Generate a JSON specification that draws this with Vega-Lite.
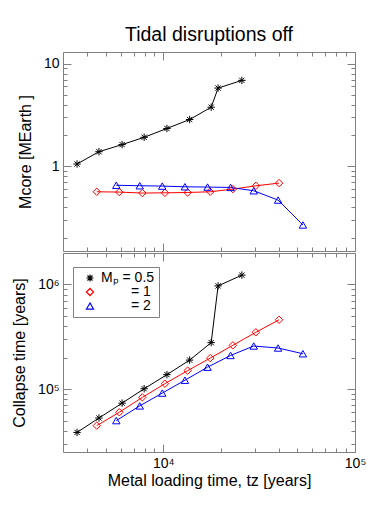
{
  "$schema": "https://vega.github.io/schema/vega-lite/v6.json",
  "padding": {"left": 11, "top": 24, "right": 5, "bottom": 5},
  "datasets": {
    "mcore": [
      {"t": 3550, "v": 1.055, "s": "0.5"}, {"t": 4620, "v": 1.39, "s": "0.5"}, {"t": 6100, "v": 1.63, "s": "0.5"},
      {"t": 7950, "v": 1.92, "s": "0.5"}, {"t": 10450, "v": 2.34, "s": "0.5"}, {"t": 13730, "v": 2.86, "s": "0.5"},
      {"t": 17780, "v": 3.77, "s": "0.5"}, {"t": 19320, "v": 5.79, "s": "0.5"}, {"t": 25700, "v": 6.88, "s": "0.5"},
      {"t": 4500, "v": 0.566, "s": "1"}, {"t": 5900, "v": 0.562, "s": "1"}, {"t": 7780, "v": 0.55, "s": "1"},
      {"t": 10200, "v": 0.553, "s": "1"}, {"t": 13400, "v": 0.557, "s": "1"}, {"t": 17580, "v": 0.566, "s": "1"},
      {"t": 23070, "v": 0.601, "s": "1"}, {"t": 30400, "v": 0.647, "s": "1"}, {"t": 40180, "v": 0.688, "s": "1"},
      {"t": 5690, "v": 0.655, "s": "2"}, {"t": 7540, "v": 0.648, "s": "2"}, {"t": 9880, "v": 0.643, "s": "2"},
      {"t": 12970, "v": 0.633, "s": "2"}, {"t": 17020, "v": 0.629, "s": "2"}, {"t": 22440, "v": 0.624, "s": "2"},
      {"t": 29640, "v": 0.579, "s": "2"}, {"t": 39700, "v": 0.47, "s": "2"}, {"t": 53500, "v": 0.269, "s": "2"}
    ],
    "tcoll": [
      {"t": 3550, "v": 38460, "s": "0.5"}, {"t": 4620, "v": 52850, "s": "0.5"}, {"t": 6100, "v": 73280, "s": "0.5"},
      {"t": 7950, "v": 100700, "s": "0.5"}, {"t": 10450, "v": 137400, "s": "0.5"}, {"t": 13730, "v": 189200, "s": "0.5"},
      {"t": 17780, "v": 278000, "s": "0.5"}, {"t": 19320, "v": 969000, "s": "0.5"}, {"t": 25700, "v": 1229000, "s": "0.5"},
      {"t": 4500, "v": 44650, "s": "1"}, {"t": 5900, "v": 60000, "s": "1"}, {"t": 7780, "v": 83200, "s": "1"},
      {"t": 10200, "v": 112500, "s": "1"}, {"t": 13400, "v": 150000, "s": "1"}, {"t": 17580, "v": 197700, "s": "1"},
      {"t": 23070, "v": 261900, "s": "1"}, {"t": 30400, "v": 349000, "s": "1"}, {"t": 40180, "v": 459700, "s": "1"},
      {"t": 5690, "v": 49900, "s": "2"}, {"t": 7540, "v": 69000, "s": "2"}, {"t": 9880, "v": 91500, "s": "2"},
      {"t": 12970, "v": 121400, "s": "2"}, {"t": 17020, "v": 161800, "s": "2"}, {"t": 22440, "v": 209500, "s": "2"},
      {"t": 29640, "v": 258000, "s": "2"}, {"t": 39700, "v": 246800, "s": "2"}, {"t": 53500, "v": 217600, "s": "2"}
    ]
  },
  "vconcat": [
    {
      "width": 292,
      "height": 199,
      "title": {"text": "Tidal disruptions off", "fontSize": 19.5, "fontWeight": "normal", "font": "Liberation Sans", "anchor": "middle", "frame": "group", "offset": 6, "color": "#000"},
      "data": {"name": "mcore"},
      "layer": [
        {
          "mark": {"type": "line", "strokeWidth": 1},
          "encoding": {
            "x": {"field": "t", "type": "quantitative", "scale": {"type": "log", "domain": [3000, 100000], "nice": false}, "axis": {"orient": "bottom", "values": [10000, 100000], "tickSize": -8, "labels": false, "title": null}},
            "y": {"field": "v", "type": "quantitative", "scale": {"type": "log", "domain": [0.15, 13], "nice": false}, "axis": {"orient": "left", "values": [1, 10], "tickSize": -8, "labelPadding": 12, "labelExpr": "datum.value == 1 ? '1' : '10'", "title": "Mcore [MEarth ]", "titlePadding": 10}},
            "color": {"field": "s", "type": "nominal", "scale": {"domain": ["0.5", "1", "2"], "range": ["#000000", "#ff0000", "#0000ff"]}, "legend": null}
          }
        },
        {
          "mark": {"type": "point", "filled": false, "strokeWidth": 1, "size": 55, "opacity": 1},
          "encoding": {
            "x": {"field": "t", "type": "quantitative", "scale": {"type": "log", "domain": [3000, 100000], "nice": false}, "axis": {"orient": "bottom", "values": [4000, 5000, 6000, 7000, 8000, 9000, 20000, 30000, 40000, 50000, 60000, 70000, 80000, 90000], "tickSize": -4, "labels": false, "title": null}},
            "y": {"field": "v", "type": "quantitative", "scale": {"type": "log", "domain": [0.15, 13], "nice": false}, "axis": {"orient": "left", "values": [0.2, 0.3, 0.4, 0.5, 0.6, 0.7, 0.8, 0.9, 2, 3, 4, 5, 6, 7, 8, 9], "tickSize": -4, "labels": false, "title": null}},
            "color": {"field": "s", "type": "nominal", "scale": {"domain": ["0.5", "1", "2"], "range": ["#000000", "#ff0000", "#0000ff"]}, "legend": null},
            "shape": {"field": "s", "type": "nominal", "scale": {"domain": ["0.5", "1", "2"], "range": ["M-1,0L1,0M0,-1L0,1M-0.71,-0.71L0.71,0.71M-0.71,0.71L0.71,-0.71", "diamond", "triangle-up"]}, "legend": null}
          }
        },
        {
          "mark": {"type": "point", "opacity": 0},
          "encoding": {
            "x": {"field": "t", "type": "quantitative", "scale": {"type": "log", "domain": [3000, 100000], "nice": false}, "axis": {"orient": "top", "values": [10000, 100000], "tickSize": -8, "labels": false, "title": null}},
            "y": {"field": "v", "type": "quantitative", "scale": {"type": "log", "domain": [0.15, 13], "nice": false}, "axis": {"orient": "right", "values": [1, 10], "tickSize": -8, "labels": false, "title": null}}
          }
        },
        {
          "mark": {"type": "point", "opacity": 0},
          "encoding": {
            "x": {"field": "t", "type": "quantitative", "scale": {"type": "log", "domain": [3000, 100000], "nice": false}, "axis": {"orient": "top", "values": [4000, 5000, 6000, 7000, 8000, 9000, 20000, 30000, 40000, 50000, 60000, 70000, 80000, 90000], "tickSize": -4, "labels": false, "title": null}},
            "y": {"field": "v", "type": "quantitative", "scale": {"type": "log", "domain": [0.15, 13], "nice": false}, "axis": {"orient": "right", "values": [0.2, 0.3, 0.4, 0.5, 0.6, 0.7, 0.8, 0.9, 2, 3, 4, 5, 6, 7, 8, 9], "tickSize": -4, "labels": false, "title": null}}
          }
        }
      ],
      "resolve": {"axis": {"x": "independent", "y": "independent"}}
    },
    {
      "width": 292,
      "height": 199,
      "data": {"name": "tcoll"},
      "layer": [
        {
          "mark": {"type": "line", "strokeWidth": 1},
          "encoding": {
            "x": {"field": "t", "type": "quantitative", "scale": {"type": "log", "domain": [3000, 100000], "nice": false}, "axis": {"orient": "bottom", "values": [10000, 100000], "tickSize": -8, "labelPadding": 12, "labelExpr": "datum.value == 10000 ? '10⁴' : '10⁵'", "title": "Metal loading time, tz [years]", "titlePadding": 2}},
            "y": {"field": "v", "type": "quantitative", "scale": {"type": "log", "domain": [25000, 2000000], "nice": false}, "axis": {"orient": "left", "values": [100000, 1000000], "tickSize": -8, "labelPadding": 12, "labelExpr": "datum.value == 100000 ? '10⁵' : '10⁶'", "title": "Collapse time [years]", "titlePadding": 10}},
            "color": {"field": "s", "type": "nominal", "scale": {"domain": ["0.5", "1", "2"], "range": ["#000000", "#ff0000", "#0000ff"]}}
          }
        },
        {
          "mark": {"type": "point", "filled": false, "strokeWidth": 1, "size": 55, "opacity": 1},
          "encoding": {
            "x": {"field": "t", "type": "quantitative", "scale": {"type": "log", "domain": [3000, 100000], "nice": false}, "axis": {"orient": "bottom", "values": [4000, 5000, 6000, 7000, 8000, 9000, 20000, 30000, 40000, 50000, 60000, 70000, 80000, 90000], "tickSize": -4, "labels": false, "title": null}},
            "y": {"field": "v", "type": "quantitative", "scale": {"type": "log", "domain": [25000, 2000000], "nice": false}, "axis": {"orient": "left", "values": [30000, 40000, 50000, 60000, 70000, 80000, 90000, 200000, 300000, 400000, 500000, 600000, 700000, 800000, 900000], "tickSize": -4, "labels": false, "title": null}},
            "color": {"field": "s", "type": "nominal", "scale": {"domain": ["0.5", "1", "2"], "range": ["#000000", "#ff0000", "#0000ff"]}, "legend": {"orient": "none", "legendX": 10, "legendY": 14, "title": null, "labelExpr": "datum.label == '0.5' ? 'Mₚ = 0.5' : datum.label == '1' ? '\u2800\u2800\u2800= 1' : '\u2800\u2800\u2800= 2'"}},
            "shape": {"field": "s", "type": "nominal", "scale": {"domain": ["0.5", "1", "2"], "range": ["M-1,0L1,0M0,-1L0,1M-0.71,-0.71L0.71,0.71M-0.71,0.71L0.71,-0.71", "diamond", "triangle-up"]}, "legend": {"orient": "none", "legendX": 10, "legendY": 14, "title": null, "labelExpr": "datum.label == '0.5' ? 'Mₚ = 0.5' : datum.label == '1' ? '\u2800\u2800\u2800= 1' : '\u2800\u2800\u2800= 2'"}}
          }
        },
        {
          "mark": {"type": "point", "opacity": 0},
          "encoding": {
            "x": {"field": "t", "type": "quantitative", "scale": {"type": "log", "domain": [3000, 100000], "nice": false}, "axis": {"orient": "top", "values": [10000, 100000], "tickSize": -8, "labels": false, "title": null}},
            "y": {"field": "v", "type": "quantitative", "scale": {"type": "log", "domain": [25000, 2000000], "nice": false}, "axis": {"orient": "right", "values": [100000, 1000000], "tickSize": -8, "labels": false, "title": null}}
          }
        },
        {
          "mark": {"type": "point", "opacity": 0},
          "encoding": {
            "x": {"field": "t", "type": "quantitative", "scale": {"type": "log", "domain": [3000, 100000], "nice": false}, "axis": {"orient": "top", "values": [4000, 5000, 6000, 7000, 8000, 9000, 20000, 30000, 40000, 50000, 60000, 70000, 80000, 90000], "tickSize": -4, "labels": false, "title": null}},
            "y": {"field": "v", "type": "quantitative", "scale": {"type": "log", "domain": [25000, 2000000], "nice": false}, "axis": {"orient": "right", "values": [30000, 40000, 50000, 60000, 70000, 80000, 90000, 200000, 300000, 400000, 500000, 600000, 700000, 800000, 900000], "tickSize": -4, "labels": false, "title": null}}
          }
        }
      ],
      "resolve": {"axis": {"x": "independent", "y": "independent"}}
    }
  ],
  "spacing": 0,
  "resolve": {"scale": {"color": "independent", "shape": "independent"}, "legend": {"color": "independent", "shape": "independent"}},
  "config": {
    "font": "Liberation Sans",
    "view": {"stroke": "#808080", "strokeWidth": 1},
    "axis": {"domain": false, "grid": false, "tickColor": "#808080", "tickWidth": 1, "labelFont": "Liberation Sans", "labelFontSize": 14, "labelColor": "#000", "titleFont": "Liberation Sans", "titleFontSize": 16, "titleFontWeight": "normal", "titleColor": "#000", "labelFlush": false, "labelOverlap": false},
    "legend": {"labelFont": "Liberation Sans", "labelFontSize": 14, "labelColor": "#000", "symbolStrokeWidth": 1.2, "symbolSize": 50, "symbolOffset": 6, "rowPadding": 0, "strokeColor": "#808080", "padding": 4, "fillColor": "white", "labelOffset": 4}
  }
}
